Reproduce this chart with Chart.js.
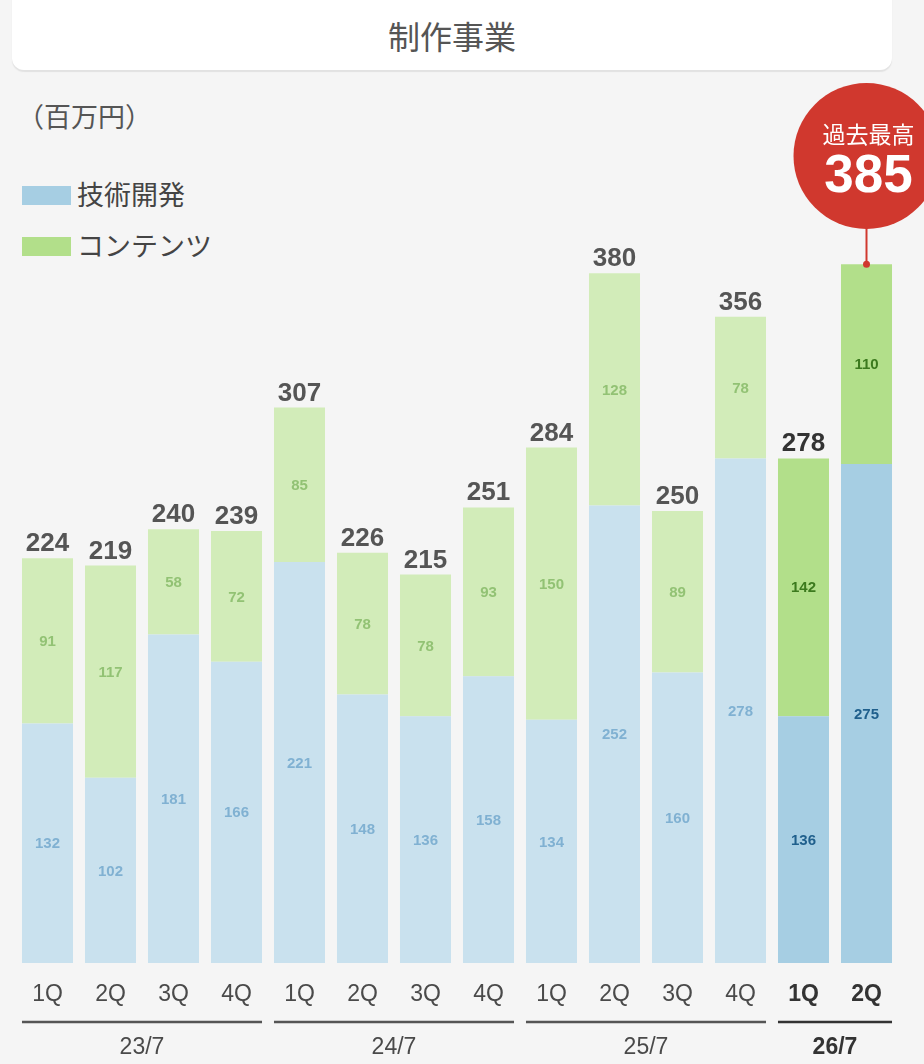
<!DOCTYPE html>
<html><head><meta charset="utf-8">
<script src="https://cdn.jsdelivr.net/npm/chart.js@4.4.1/dist/chart.umd.min.js"></script>
<style>
html,body{margin:0;padding:0;background:#f5f5f5;width:924px;height:1064px;overflow:hidden;}
body{position:relative;font-family:"Noto Sans CJK JP","Noto Sans",sans-serif;color:#555;}
#titlebox{position:absolute;left:12px;top:-14px;width:880px;height:84px;background:#fff;border-radius:12px;box-shadow:0 2px 1px #e2e2e2;}
#title{position:absolute;left:0;top:29px;width:880px;height:40px;line-height:40px;text-align:center;font-size:32px;color:#555;}
#unit{position:absolute;left:17px;top:98px;font-size:27px;line-height:36px;color:#555;}
.leg{position:absolute;left:22px;height:34px;line-height:34px;font-size:27px;color:#444;}
.leg span{display:inline-block;width:49px;height:19px;margin-right:6px;vertical-align:middle;position:relative;top:-2px;}
canvas{position:absolute;left:0;top:0;}
</style></head>
<body>
<div id="titlebox"><div id="title">制作事業</div></div>
<div id="unit">（百万円）</div>
<div class="leg" style="top:177px"><span style="background:#a6cee3"></span>技術開発</div>
<div class="leg" style="top:228px"><span style="background:#b2df8a"></span>コンテンツ</div>
<canvas id="c" width="924" height="1064"></canvas>
<script>
const quarters = ['1Q','2Q','3Q','4Q','1Q','2Q','3Q','4Q','1Q','2Q','3Q','4Q','1Q','2Q'];
const techDev  = [132,102,181,166,221,148,136,158,134,252,160,278,136,275];
const contents = [91,117,58,72,85,78,78,93,150,128,89,78,142,110];
const totals   = [224,219,240,239,307,226,215,251,284,380,250,356,278,385];
const groups = [
  {label:'23/7', from:0, to:3},
  {label:'24/7', from:4, to:7},
  {label:'25/7', from:8, to:11},
  {label:'26/7', from:12, to:13}
];
const highlightFrom = 12;
const recordText = '過去最高';

const isHi = i => i >= highlightFrom;
const techColors = techDev.map((v,i)=> isHi(i) ? '#a6cee3' : '#c9e1ee');
const contColors = contents.map((v,i)=> isHi(i) ? '#b2df8a' : '#d2ecb9');

const labelsPlugin = {
  id:'labels',
  afterDatasetsDraw(chart){
    const ctx = chart.ctx;
    const m0 = chart.getDatasetMeta(0), m1 = chart.getDatasetMeta(1);
    ctx.save();
    ctx.textAlign = 'center';
    ctx.textBaseline = 'middle';
    for(let i=0;i<quarters.length;i++){
      const b0 = m0.data[i], b1 = m1.data[i];
      ctx.font = 'bold 15px "Liberation Sans", Arial, sans-serif';
      ctx.fillStyle = isHi(i) ? '#1f5f8c' : '#80b1d2';
      ctx.fillText(String(techDev[i]), b0.x, (b0.y + b0.base)/2 + 1);
      ctx.fillStyle = isHi(i) ? '#3c7a1e' : '#92c274';
      ctx.fillText(String(contents[i]), b1.x, (b1.y + b1.base)/2 + 1);
      if(i === quarters.length-1){
        const cx = b1.x, cy = 156, r = 73;
        ctx.strokeStyle = '#d0382e';
        ctx.lineWidth = 2;
        ctx.beginPath(); ctx.moveTo(cx, cy + r - 2); ctx.lineTo(cx, b1.y); ctx.stroke();
        ctx.fillStyle = '#d0382e';
        ctx.beginPath(); ctx.arc(cx, b1.y, 3.5, 0, Math.PI*2); ctx.fill();
        ctx.beginPath(); ctx.arc(cx, cy, r, 0, Math.PI*2); ctx.fill();
        ctx.fillStyle = '#fff';
        ctx.font = '23px "Noto Sans CJK JP", sans-serif';
        ctx.fillText(recordText, cx + 2, 134);
        ctx.font = 'bold 53px "Liberation Sans", Arial, sans-serif';
        ctx.fillText(String(totals[i]), cx + 2, 177);
      } else {
        ctx.textBaseline = 'alphabetic';
        ctx.font = 'bold 26px "Liberation Sans", Arial, sans-serif';
        ctx.fillStyle = isHi(i) ? '#333' : '#555';
        ctx.fillText(String(totals[i]), b1.x, b1.y - 7);
        ctx.textBaseline = 'middle';
      }
    }
    const half = m0.data[0].width/2;
    groups.forEach((g,gi)=>{
      const x0 = m0.data[g.from].x - half, x1 = m0.data[g.to].x + half;
      const last = gi === groups.length-1;
      ctx.strokeStyle = last ? '#333' : '#555';
      ctx.lineWidth = 2.5;
      ctx.beginPath(); ctx.moveTo(x0, 1022); ctx.lineTo(x1, 1022); ctx.stroke();
      ctx.fillStyle = last ? '#333' : '#4a4a4a';
      ctx.font = (last ? 'bold ' : '') + '23px "Liberation Sans", Arial, sans-serif';
      ctx.fillText(g.label, (x0+x1)/2, 1048);
    });
    ctx.restore();
  }
};

new Chart(document.getElementById('c'), {
  type:'bar',
  data:{
    labels: quarters,
    datasets:[
      {label:'技術開発', data:techDev, backgroundColor:techColors, borderWidth:0},
      {label:'コンテンツ', data:contents, backgroundColor:contColors, borderWidth:0}
    ]
  },
  options:{
    responsive:false,
    animation:false,
    devicePixelRatio:1,
    layout:{padding:{left:16, right:26, top:237, bottom:0}},
    datasets:{bar:{categoryPercentage:1, barPercentage:0.81}},
    plugins:{legend:{display:false}, tooltip:{enabled:false}},
    scales:{
      x:{
        stacked:true,
        grid:{display:false},
        border:{display:false},
        afterFit(s){ s.height = 101; },
        ticks:{
          padding:10,
          autoSkip:false,
          maxRotation:0,
          color:(c)=> isHi(c.index) ? '#333' : '#4a4a4a',
          font:(c)=> ({family:'"Liberation Sans", Arial, sans-serif', size:23, weight: isHi(c.index) ? 'bold' : 'normal'})
        }
      },
      y:{stacked:true, display:false, min:0, max:400}
    }
  },
  plugins:[labelsPlugin]
});
</script>
</body></html>
